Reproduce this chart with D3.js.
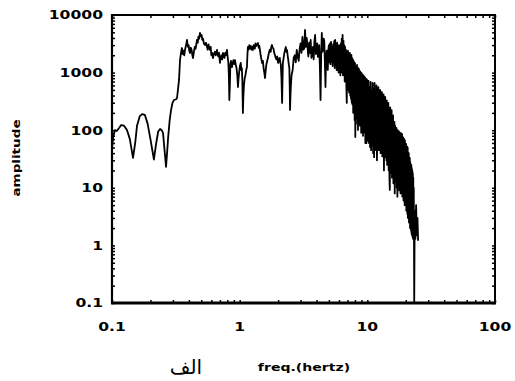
<!DOCTYPE html>
<html>
<head>
<meta charset="utf-8">
<script src="https://cdn.jsdelivr.net/npm/d3@7"></script>
<style>
  html, body { margin: 0; padding: 0; background: #fff; }
  svg { display: block; }
</style>
</head>
<body>
<div id="chart"></div>
<script>
// frequency (Hz), one row per row of amplitude below
const freq = [
  0.100, 0.102, 0.1055, 0.109, 0.114, 0.118, 0.124, 0.131, 0.138, 0.146,
  0.152, 0.157, 0.165, 0.172, 0.181, 0.190, 0.200, 0.213, 0.222, 0.230,
  0.238, 0.245, 0.251, 0.258, 0.265, 0.270, 0.275, 0.283, 0.290, 0.298,
  0.306, 0.318, 0.323, 0.330, 0.335, 0.341, 0.347, 0.353, 0.358, 0.362,
  0.368, 0.373, 0.380, 0.387, 0.393, 0.398, 0.403, 0.408, 0.414, 0.420,
  0.426, 0.431, 0.438, 0.445, 0.452, 0.463, 0.470, 0.475, 0.482, 0.489,
  0.496, 0.503, 0.510, 0.516, 0.525, 0.535, 0.545, 0.555, 0.562, 0.570,
  0.578, 0.586, 0.593, 0.600, 0.609, 0.618, 0.628, 0.640, 0.650, 0.664,
  0.672, 0.680, 0.690, 0.701, 0.710, 0.720, 0.730, 0.740, 0.750, 0.760,
  0.770, 0.780, 0.795, 0.805, 0.815, 0.823, 0.830, 0.838, 0.845, 0.855,
  0.863, 0.871, 0.882, 0.895, 0.905, 0.919, 0.930, 0.945, 0.958, 0.970,
  0.980, 0.990, 1.005, 1.020, 1.030, 1.040, 1.050, 1.060, 1.070, 1.080,
  1.095, 1.110, 1.125, 1.140, 1.150, 1.160, 1.175, 1.190, 1.205, 1.220,
  1.240, 1.255, 1.270, 1.285, 1.300, 1.315, 1.330, 1.350, 1.370, 1.390,
  1.410, 1.425, 1.440, 1.460, 1.480, 1.500, 1.520, 1.540, 1.560, 1.580,
  1.600, 1.620, 1.645, 1.670, 1.695, 1.720, 1.750, 1.770, 1.790, 1.815,
  1.840, 1.865, 1.890, 1.915, 1.940, 1.970, 2.000, 2.030, 2.060, 2.080,
  2.100, 2.125, 2.150, 2.165, 2.180, 2.210, 2.240, 2.270, 2.300, 2.325,
  2.350, 2.375, 2.400, 2.425, 2.450, 2.465, 2.480, 2.500, 2.520, 2.550,
  2.60, 2.65, 2.70, 2.75, 2.80, 2.85, 2.90, 2.95, 3.00, 3.05,
  3.10, 3.15, 3.20, 3.25, 3.30, 3.35, 3.40, 3.45, 3.50, 3.55,
  3.60, 3.65, 3.70, 3.75, 3.80, 3.85, 3.90, 3.95, 4.00, 4.05,
  4.10, 4.15, 4.20, 4.25, 4.30, 4.35, 4.40, 4.45, 4.50, 4.55,
  4.60, 4.65, 4.70, 4.75, 4.80, 4.85, 4.90, 4.95,
  5.00, 5.05, 5.10, 5.15, 5.20, 5.25, 5.30, 5.35, 5.40, 5.45,
  5.50, 5.55, 5.60, 5.65, 5.70, 5.75, 5.80, 5.85, 5.90, 5.95,
  6.00, 6.05, 6.10, 6.15, 6.20, 6.25, 6.30, 6.35, 6.40, 6.45,
  6.50, 6.55, 6.60, 6.65, 6.70, 6.75, 6.80, 6.85, 6.90, 6.95,
  7.00, 7.05, 7.10, 7.15, 7.20, 7.25, 7.30, 7.35, 7.40, 7.45,
  7.50, 7.55, 7.60, 7.65, 7.70, 7.75, 7.80, 7.85, 7.90, 7.95,
  8.00, 8.05, 8.10, 8.15, 8.20, 8.25, 8.30, 8.35, 8.40, 8.45,
  8.50, 8.55, 8.60, 8.65, 8.70, 8.75, 8.80, 8.85, 8.90, 8.95,
  9.00, 9.05, 9.10, 9.15, 9.20, 9.25, 9.30, 9.35, 9.40, 9.45,
  9.50, 9.55, 9.60, 9.65, 9.70, 9.75, 9.80, 9.85, 9.90, 9.95,
  10.0,
  10.1, 10.2, 10.3, 10.4, 10.5, 10.6, 10.7, 10.8, 10.9, 11.0,
  11.1, 11.2, 11.3, 11.4, 11.5, 11.6, 11.7, 11.8, 11.9, 12.0,
  12.1, 12.2, 12.3, 12.4, 12.5, 12.6, 12.7, 12.8, 12.9, 13.0,
  13.1, 13.2, 13.3, 13.4, 13.5, 13.6, 13.7, 13.8, 13.9, 14.0,
  14.1, 14.2, 14.3, 14.4, 14.5, 14.6, 14.7, 14.8, 14.9, 15.0,
  15.1, 15.2, 15.3, 15.4, 15.5, 15.6, 15.7, 15.8, 15.9, 16.0,
  16.1, 16.2, 16.3, 16.4, 16.5, 16.6, 16.7, 16.8, 16.9, 17.0,
  17.1, 17.2, 17.3, 17.4, 17.5, 17.6, 17.7, 17.8, 17.9, 18.0,
  18.1, 18.2, 18.3, 18.4, 18.5, 18.6, 18.7, 18.8, 18.9, 19.0,
  19.1, 19.2, 19.3, 19.4, 19.5, 19.6, 19.7, 19.8, 19.9, 20.0,
  20.1, 20.2, 20.3, 20.4, 20.5, 20.6, 20.7, 20.8, 20.9, 21.0,
  21.1, 21.2, 21.3, 21.4, 21.5, 21.6, 21.7, 21.8, 21.9, 22.0,
  22.1, 22.2, 22.3, 22.4, 22.5, 22.6, 22.7, 22.8, 22.9, 23.0,
  23.1, 23.2,
  23.3, 23.5, 23.8, 24.1, 24.4, 24.7, 25.0
];

const amplitude = [
  48, 75, 100, 97, 110, 123, 120, 101, 70, 33,
  60, 120, 175, 190, 184, 130, 70, 31, 60, 95,
  105, 100, 90, 45, 23, 40, 73, 150, 224, 300,
  334, 345, 362, 550, 745, 1650, 2190, 2670, 2100, 2400,
  2000, 2470, 3000, 3680, 2800, 3000, 2400, 2190, 2700, 2500,
  2000, 1790, 2300, 2800, 2600, 3680, 3300, 4200, 3900, 4870,
  4300, 4500, 3700, 3900, 3200, 3000, 3300, 2780, 2500, 3100,
  2700, 2470, 2800, 2000, 2200, 1790, 2100, 2300, 2000, 2470,
  2100, 1900, 2200, 1470, 1800, 2000, 1700, 2190, 1900, 1800,
  2200, 2000, 2470, 1900, 1500, 900, 334, 600, 1400, 1600,
  1300, 1250, 1500, 1650, 1400, 1650, 1400, 1200, 900, 562,
  800, 1000, 1300, 1470, 1100, 1200, 700, 199, 400, 600,
  800, 900, 1100, 1250, 2000, 2780, 2500, 3010, 2600, 2900,
  2500, 2800, 2470, 3000, 2800, 2600, 3200, 2900, 3100, 3260,
  2700, 2900, 2500, 2000, 1700, 1470, 1600, 1200, 1000, 805,
  1100, 1400, 1600, 1870, 2200, 2500, 2300, 2800, 3010, 2700,
  2600, 2200, 2020, 1800, 1700, 1900, 1470, 1700, 1800, 1500,
  1400, 800, 297, 700, 1470, 1800, 2200, 2500, 2780, 2300,
  2470, 2000, 1700, 1400, 1200, 600, 225, 400, 600, 900,
  1110, 1800, 2000, 1500, 2470, 1900, 1600, 2600, 3200, 2200,
  4150, 2500, 2600, 5500, 2800, 4000, 2780, 1900, 3300, 2200,
  3680, 1800, 2200, 2780, 1700, 3500, 4500, 2100, 2500, 3200,
  1870, 2600, 3000, 1200, 334, 2000, 4870, 2300, 2600, 3900,
  3500, 1500, 562, 1800, 2400, 1400, 1110, 2500,
  3000, 1500, 3200, 1400, 3400, 1600, 2800, 1300, 3100, 1500,
  3500, 1200, 3680, 1400, 3000, 1100, 3300, 1300, 2900, 1000,
  3000, 1200, 2780, 900, 3200, 1100, 3900, 1000, 4500, 900,
  3600, 1000, 3000, 700, 2800, 800, 2500, 600, 297, 2300,
  500, 2400, 600, 2200, 450, 2000, 2190, 400, 1900, 350,
  2020, 300, 1800, 280, 1700, 200, 1600, 250, 1500, 150,
  1470, 76, 1100, 180, 1300, 160, 1360, 130, 900, 101,
  1200, 150, 1150, 140, 800, 120, 1050, 160, 1000, 90,
  985, 114, 700, 140, 920, 80, 900, 130, 600, 110,
  850, 90, 820, 60, 550, 80, 780, 60, 760, 65,
  740,
  70, 720, 60, 560, 51, 687, 45, 480, 55, 660,
  40, 520, 34, 660, 45, 450, 50, 600, 30, 400,
  68, 560, 45, 350, 70, 499, 40, 300, 55, 460,
  35, 280, 45, 420, 20, 250, 34, 377, 36, 230,
  30, 330, 25, 200, 34, 297, 20, 180, 15, 9.2,
  250, 20, 150, 18, 224, 15, 130, 17, 180, 12,
  110, 14, 140, 8, 120, 13, 90, 14, 110, 10,
  80, 7, 100, 12, 70, 11, 95, 9, 65, 10,
  90, 8, 60, 10, 88, 9, 85, 7, 55, 8,
  75, 6, 50, 6.5, 70, 5, 66, 6, 45, 5,
  58, 4, 40, 4.5, 52, 3.5, 50, 3, 35, 3,
  40, 2.5, 30, 2.5, 33, 2, 28, 2, 25, 1.8,
  25, 1.6, 22, 1.5, 20, 1.4, 18, 1.3, 15, 1.3,
  10, 1.2,
  0.1, 4, 1.3, 5, 1.5, 3, 1.2
];

const xTickLabels = [0.1, 1, 10, 100];
const yTickLabels = [0.1, 1, 10, 100, 1000, 10000];

const width = 515, height = 381;
const margin = { top: 15, right: 20, bottom: 78, left: 112 };
const font = "'DejaVu Sans', sans-serif";

const svg = d3.select('#chart').append('svg')
  .attr('width', width)
  .attr('height', height)
  .style('background-color', '#fff');

const x = d3.scaleLog().domain([0.1, 100]).range([margin.left, width - margin.right]);
const y = d3.scaleLog().domain([0.1, 10000]).range([height - margin.bottom, margin.top]);

// minor + major tick positions
const minorX = [];
xTickLabels.slice(0, -1).forEach(d => { for (let k = 1; k < 10; k++) minorX.push(d * k); });
minorX.push(100);
const minorY = [];
yTickLabels.slice(0, -1).forEach(d => { for (let k = 1; k < 10; k++) minorY.push(d * k); });
minorY.push(10000);

const tickLen = 3;
const axes = svg.append('g').attr('class', 'axes');

axes.append('g')
  .attr('transform', `translate(0,${y.range()[0]})`)
  .call(d3.axisBottom(x).tickValues(minorX).tickSize(-tickLen).tickFormat(''));
axes.append('g')
  .attr('transform', `translate(0,${y.range()[1]})`)
  .call(d3.axisTop(x).tickValues(minorX).tickSize(-tickLen).tickFormat(''));
axes.append('g')
  .attr('transform', `translate(${x.range()[0]},0)`)
  .call(d3.axisLeft(y).tickValues(minorY).tickSize(-tickLen).tickFormat(''));
axes.append('g')
  .attr('transform', `translate(${x.range()[1]},0)`)
  .call(d3.axisRight(y).tickValues(minorY).tickSize(-tickLen).tickFormat(''));

axes.selectAll('.domain').remove();
axes.selectAll('.tick line').attr('stroke', '#000').attr('stroke-width', 1.5);

// frame
const frame = svg.append('g').attr('class', 'frame')
  .attr('stroke', '#000').attr('fill', 'none');
frame.append('line')
  .attr('x1', x.range()[0]).attr('x2', x.range()[1])
  .attr('y1', y.range()[1]).attr('y2', y.range()[1])
  .attr('stroke-width', 2);
frame.append('line')
  .attr('x1', x.range()[1]).attr('x2', x.range()[1])
  .attr('y1', y.range()[1] - 1).attr('y2', y.range()[0])
  .attr('stroke-width', 2);
frame.append('line')
  .attr('x1', x.range()[0]).attr('x2', x.range()[0])
  .attr('y1', y.range()[1] - 1).attr('y2', y.range()[0])
  .attr('stroke-width', 2.2);
frame.append('line')
  .attr('x1', x.range()[0] - 1).attr('x2', x.range()[1] + 1)
  .attr('y1', y.range()[0]).attr('y2', y.range()[0])
  .attr('stroke-width', 3);

// spectrum
const points = freq.map((f, i) => ({ f: f, a: amplitude[i] }));
const line = d3.line()
  .x(d => x(d.f))
  .y(d => y(d.a));

svg.append('path')
  .datum(points)
  .attr('d', line)
  .attr('fill', 'none')
  .attr('stroke', '#000')
  .attr('stroke-width', 1.8)
  .attr('stroke-linejoin', 'round');

// tick labels (wide bold face, stretched horizontally)
const fmt = d => (d < 1 ? '0.1' : String(d));

svg.append('g').attr('class', 'y-labels')
  .selectAll('g')
  .data(yTickLabels)
  .enter()
  .append('g')
  .attr('transform', d => `translate(${x.range()[0] - 9},${y(d)}) scale(1.3,1)`)
  .append('text')
  .attr('text-anchor', 'end')
  .attr('dy', '0.36em')
  .attr('font-family', font)
  .attr('font-weight', 'bold')
  .attr('font-size', 12)
  .text(fmt);

svg.append('g').attr('class', 'x-labels')
  .selectAll('g')
  .data(xTickLabels)
  .enter()
  .append('g')
  .attr('transform', d => `translate(${x(d)},${y.range()[0] + 28}) scale(1.3,1)`)
  .append('text')
  .attr('text-anchor', 'middle')
  .attr('font-family', font)
  .attr('font-weight', 'bold')
  .attr('font-size', 12)
  .text(fmt);

// axis titles
svg.append('g')
  .attr('transform', `translate(304,371) scale(1.28,1)`)
  .append('text')
  .attr('text-anchor', 'middle')
  .attr('font-family', font)
  .attr('font-weight', 'bold')
  .attr('font-size', 11)
  .text('freq.(hertz)');

svg.append('g')
  .attr('transform', `translate(20,158) rotate(-90) scale(1.23,1)`)
  .append('text')
  .attr('text-anchor', 'middle')
  .attr('font-family', font)
  .attr('font-weight', 'bold')
  .attr('font-size', 11)
  .text('amplitude');

svg.append('text')
  .attr('x', 186)
  .attr('y', 374)
  .attr('text-anchor', 'middle')
  .attr('font-family', font)
  .attr('font-size', 20)
  .attr('direction', 'rtl')
  .text('الف');
</script>
</body>
</html>
